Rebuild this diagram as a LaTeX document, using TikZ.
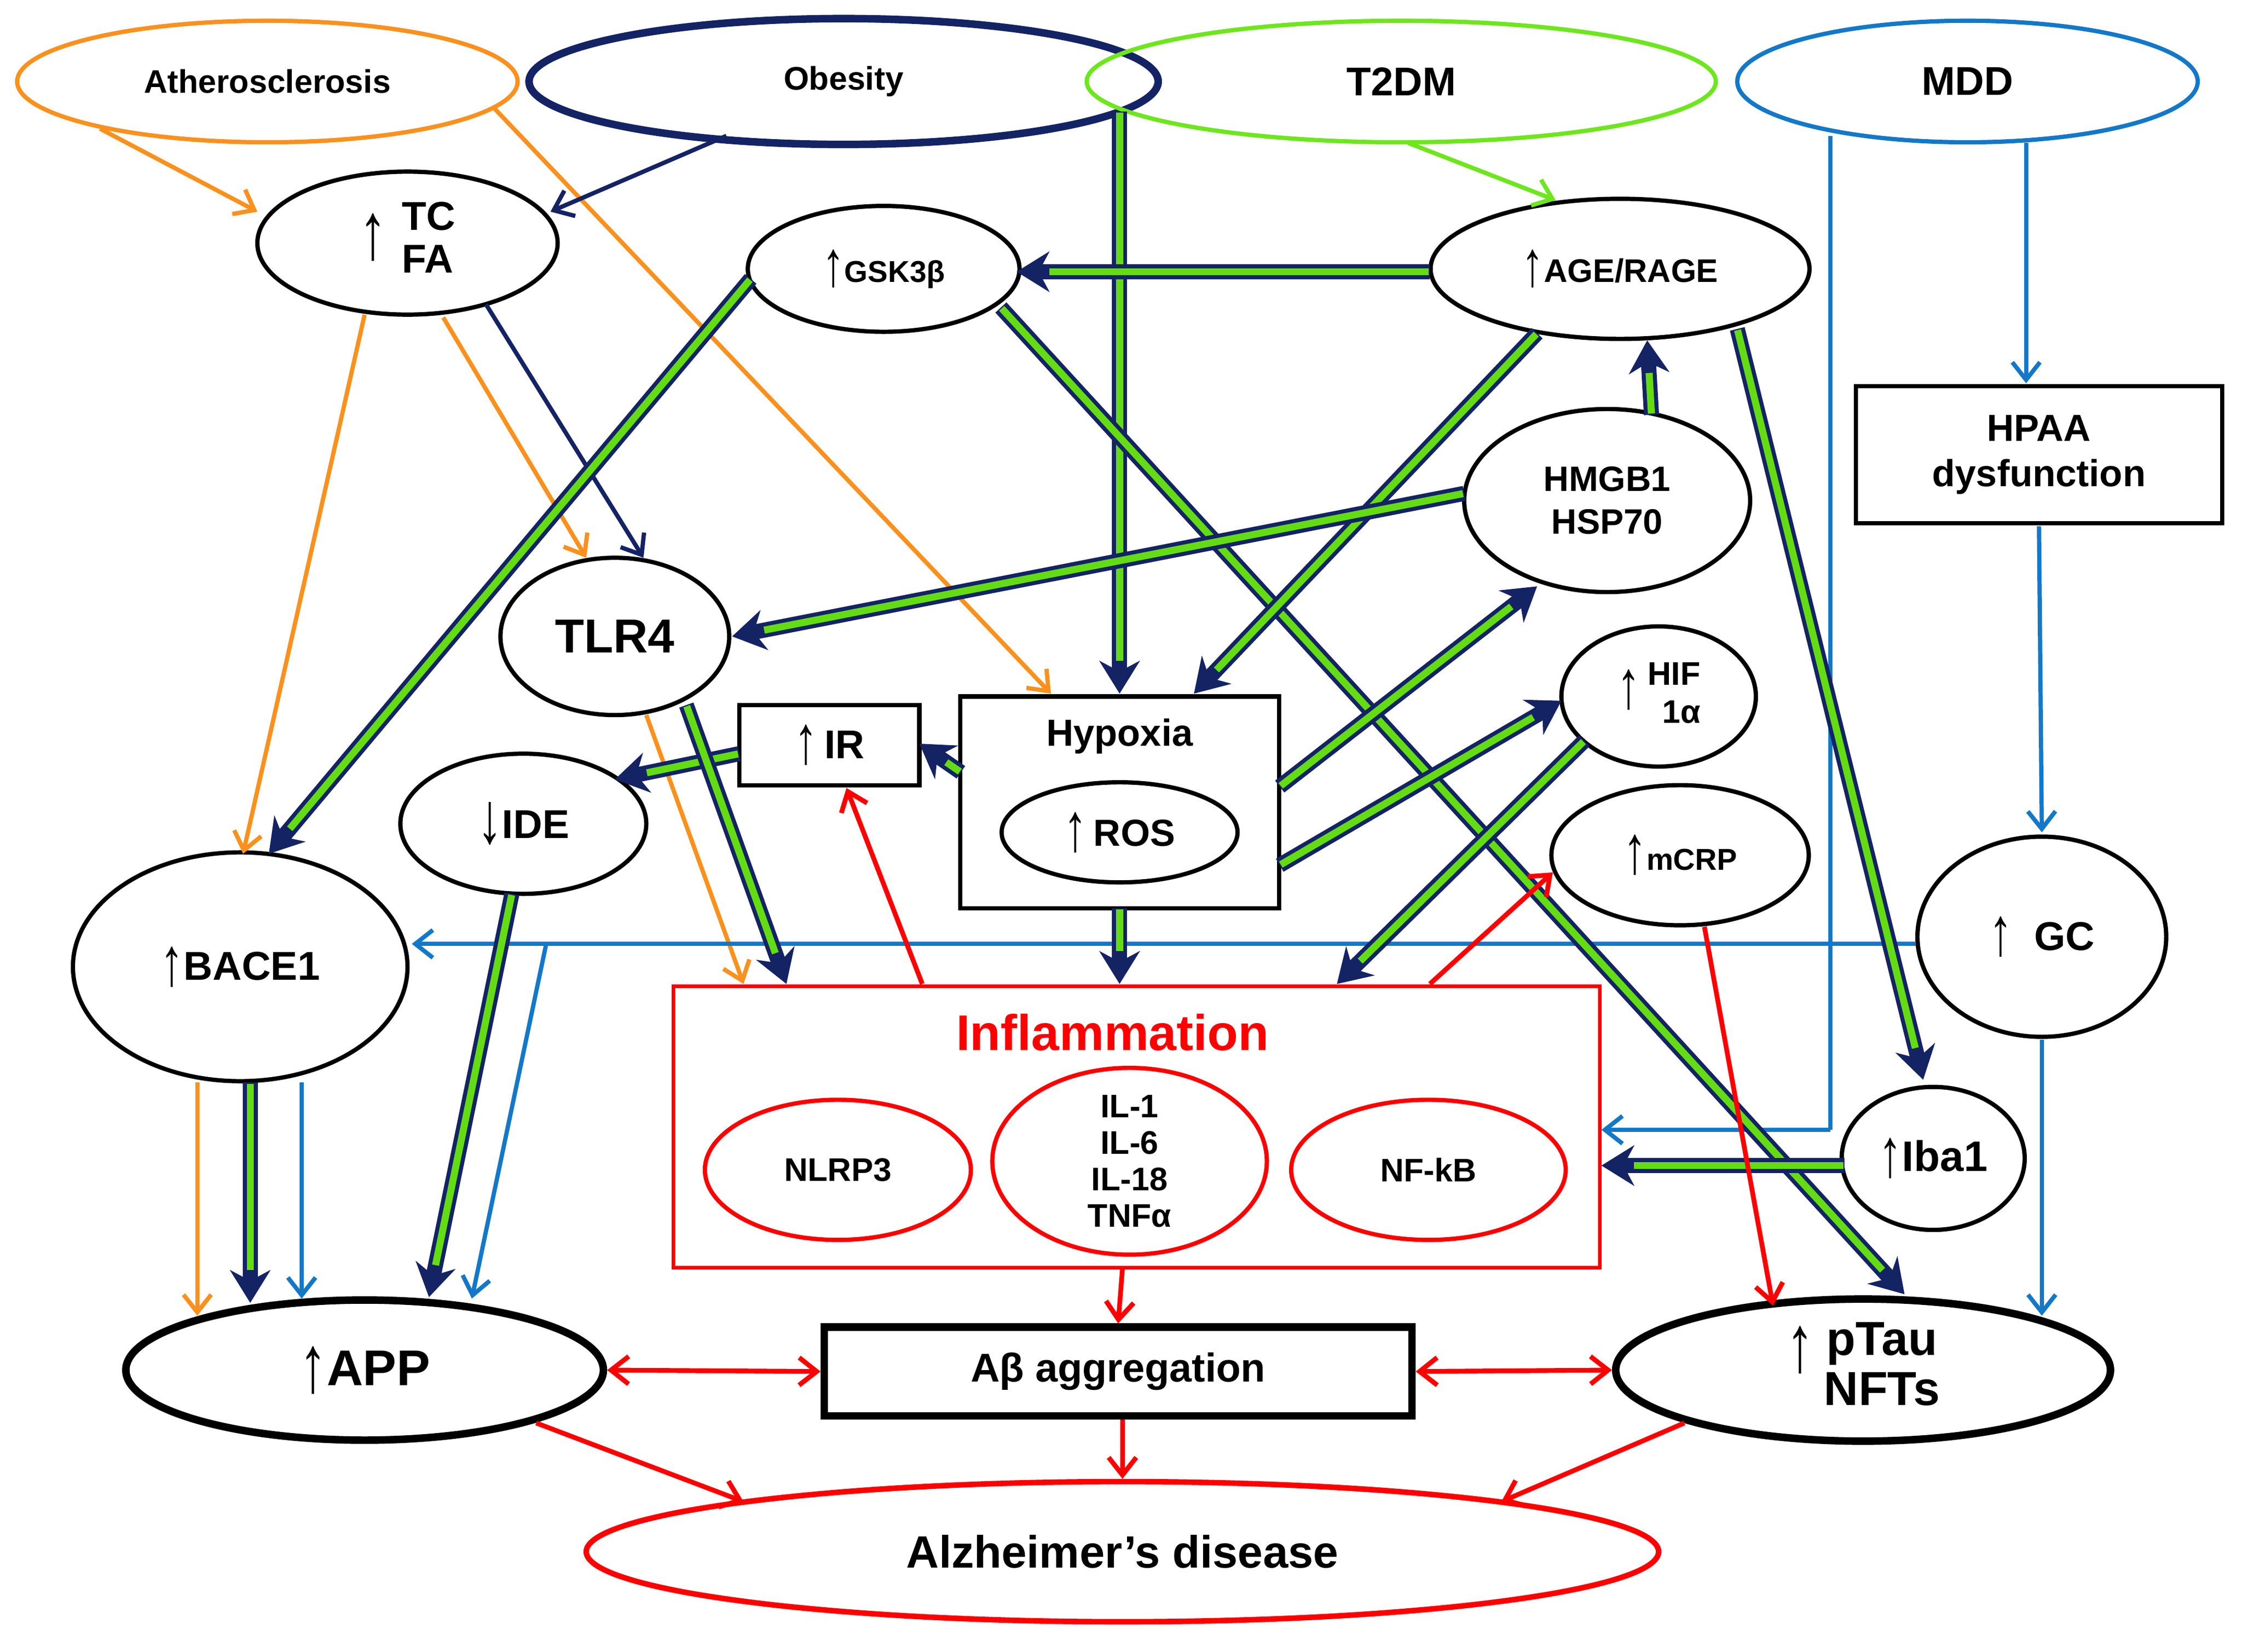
\documentclass[tikz,border=0pt]{standalone}
\usepackage{fontspec}
\setmainfont{Liberation Sans}
\usetikzlibrary{shapes.geometric,arrows.meta,calc}
\definecolor{navy}{RGB}{20,35,100}
\definecolor{grn}{RGB}{100,220,20}
\definecolor{org}{RGB}{250,145,30}
\definecolor{blu}{RGB}{20,120,200}
\definecolor{lgr}{RGB}{110,230,30}
\newcommand\UA[1][20]{\raisebox{-0.12em}{\scalebox{1.1}[1.6]{\fontsize{#1}{#1}\selectfont ↑}}}
\newcommand\DA[1][20]{\raisebox{-0.12em}{\scalebox{1.1}[1.6]{\fontsize{#1}{#1}\selectfont ↓}}}
\begin{document}
\begin{tikzpicture}[x=0.02cm,y=-0.02cm,font=\bfseries,
 mw/.style={minimum width={#1*0.02cm}},
 mh/.style={minimum height={#1*0.02cm}},
 el/.style={ellipse,draw,line width=1.7pt,mw=#1,inner sep=0pt,align=center},
 g/.style={draw=navy,line width=6pt,-{Stealth[length=13pt,width=16pt]},postaction={draw=grn,line width=2.8pt,-,shorten >=13pt,shorten <=0.5pt}},
 th/.style={line width=1.7pt,-{Straight Barb[length=7pt,width=11pt]}},
 rd/.style={draw=red,line width=1.9pt,-{Straight Barb[length=7pt,width=11pt]}},
 rdd/.style={draw=red,line width=1.9pt,{Straight Barb[length=7pt,width=11pt]}-{Straight Barb[length=7pt,width=11pt]}}]
\useasboundingbox (0,0) rectangle (1568,1155);
% top disease ellipses
\node[el=350,mh=85,draw=org,font=\bfseries\fontsize{13}{15}\selectfont] (ath) at (187,57) {Atherosclerosis};
\node[el=440,mh=88,draw=navy,line width=3pt,font=\bfseries\fontsize{13}{15}\selectfont] (ob) at (590,57) {Obesity};
\node[el=440,mh=85,draw=lgr,font=\bfseries\fontsize{16}{18}\selectfont] (t2) at (980,57) {T2DM};
\node[el=322,mh=85,draw=blu,font=\bfseries\fontsize{16}{18}\selectfont] (mdd) at (1376,57) {MDD};
% nodes
\node[el=210,mh=100,font=\bfseries\fontsize{16}{17}\selectfont] (tc) at (285,170) {\UA[20]\hspace{6pt}\begin{tabular}{@{}l@{}}TC\\FA\end{tabular}};
\node[el=190,mh=88,font=\bfseries\fontsize{12}{14}\selectfont] (gsk) at (618,188) {\UA[16]GSK3β};
\node[el=265,mh=98,font=\bfseries\fontsize{13}{15}\selectfont] (age) at (1133,188) {\UA[16]AGE/RAGE};
\node[el=200,mh=128,font=\bfseries\fontsize{14}{17}\selectfont] (hm) at (1124,350) {HMGB1\\HSP70};
\node[draw,line width=1.7pt,mw=256,mh=96,align=center,font=\bfseries\fontsize{15}{18}\selectfont] (hp) at (1426,318) {HPAA\\dysfunction};
\node[el=160,mh=110,font=\bfseries\fontsize{19}{21}\selectfont] (tlr) at (430,445) {TLR4};
\node[draw,line width=1.7pt,mw=223,mh=148] (hy) at (783,561) {};
\node[font=\bfseries\fontsize{15}{17}\selectfont] (hyt) at (783,515) {Hypoxia};
\node[el=165,mh=70,font=\bfseries\fontsize{15}{17}\selectfont] (ros) at (783,582) {\UA[17]\,ROS};
\node[draw,line width=1.7pt,mw=126,mh=56,font=\bfseries\fontsize{16}{18}\selectfont] (ir) at (580,521) {\UA[17]\,IR};
\node[el=136,mh=98,font=\bfseries\fontsize{13}{15}\selectfont] (hif) at (1160,487) {\UA[17]\hspace{3pt}\begin{tabular}{@{}r@{}}HIF\\1α\end{tabular}};
\node[el=172,mh=98,font=\bfseries\fontsize{16}{18}\selectfont] (ide) at (366,576) {\DA[18]IDE};
\node[el=180,mh=98,font=\bfseries\fontsize{12}{14}\selectfont] (mc) at (1175,598) {\UA[17]mCRP};
\node[el=174,mh=140,font=\bfseries\fontsize{16}{18}\selectfont] (gc) at (1428,655) {\UA[17]\;\;GC};
\node[el=234,mh=160,font=\bfseries\fontsize{16}{18}\selectfont] (bace) at (168,676) {\UA[17]BACE1};
% inflammation
\node[draw=red,line width=1.4pt,mw=648,mh=197] (inf) at (795,788) {};
\node[text=red,font=\bfseries\fontsize{20}{22}\selectfont] at (778,722) {Inflammation};
\node[el=186,mh=98,draw=red,font=\bfseries\fontsize{13}{15}\selectfont] (nl) at (586,818) {NLRP3};
\node[el=192,mh=122,draw=red,font=\bfseries\fontsize{13}{14.5}\selectfont] (il) at (790,812) {IL-1\\IL-6\\IL-18\\TNFα};
\node[el=192,mh=98,draw=red,font=\bfseries\fontsize{13}{15}\selectfont] (nf) at (999,818) {NF-kB};
\node[el=128,mh=100,font=\bfseries\fontsize{17}{19}\selectfont] (iba) at (1352,810) {\UA[17]Iba1};
% bottom
\node[el=334,mh=98,line width=3pt,font=\bfseries\fontsize{20}{22}\selectfont] (app) at (255,958) {\UA[20]APP};
\node[draw,line width=3pt,mw=411,mh=62,font=\bfseries\fontsize{16}{18}\selectfont] (ab) at (782,959) {Aβ aggregation};
\node[el=346,mh=98,line width=3pt,font=\bfseries\fontsize{19}{20}\selectfont] (pt) at (1303,958) {\raisebox{6pt}{\UA[20]}\hspace{4pt}\begin{tabular}{@{}c@{}}pTau\\NFTs\end{tabular}};
\node[el=750,mh=98,draw=red,line width=2.2pt,font=\bfseries\fontsize{18}{20}\selectfont] (ad) at (785,1085) {Alzheimer’s disease};
% orange
\draw[th,org] ($(ath)+(-117,33)$) -- ($(tc)+(-105,-22)$);
\draw[th,org] ($(ath)+(158,18)$) -- ($(hy)+(-48,-76)$);
\draw[th,org] ($(tc)+(-30,50)$) -- ($(bace)+(2,-79)$);
\draw[th,org] ($(tc)+(25,52)$) -- ($(tlr)+(-20,-55)$);
\draw[th,org] ($(tlr)+(22,55)$) -- ($(inf)+(-275,-100)$);
\draw[th,org] ($(bace)+(-30,81)$) -- ($(app)+(-117,-38)$);
% navy / lgreen thin
\draw[th,navy] ($(ob)+(-82,38)$) -- ($(tc)+(100,-22)$);
\draw[th,navy] ($(tc)+(55,43)$) -- ($(tlr)+(20,-55)$);
\draw[th,lgr] ($(t2)+(5,43)$) -- ($(age)+(-45,-48)$);
% blue
\coordinate (bc) at (1280,790);
\draw[th,blu,-] ($(mdd)+(-96,38)$) -- (bc);
\draw[th,blu] (bc) -- ($(inf)+(325,2)$);
\draw[th,blu] ($(mdd)+(41,43)$) -- ($(hp)+(-9,-50)$);
\draw[th,blu] ($(hp)+(0,50)$) -- ($(gc)+(0,-73)$);
\draw[th,blu] ($(gc)+(-88,5)$) -- ($(bace)+(120,-16)$);
\draw[th,blu] ($(gc)+(0,72)$) -- ($(pt)+(125,-38)$);
\draw[th,blu] ($(bace)+(43,81)$) -- ($(app)+(-44,-50)$);
\draw[th,blu] (382,660) -- ($(app)+(75,-50)$);
% green double
\draw[g] ($(t2)+(-197,21)$) -- ($(hy)+(0,-76)$);
\draw[g] ($(age)+(-133,2)$) -- ($(gsk)+(93,2)$);
\draw[g] ($(gsk)+(-93,7)$) -- ($(bace)+(20,-79)$);
\draw[g] ($(gsk)+(82,27)$) -- ($(pt)+(29,-53)$);
\draw[g] ($(age)+(-58,45)$) -- ($(hy)+(52,-76)$);
\draw[g] ($(hm)+(31,-60)$) -- ($(age)+(19,50)$);
\draw[g] ($(hm)+(-100,-5)$) -- ($(tlr)+(82,0)$);
\draw[g] ($(age)+(82,42)$) -- ($(iba)+(-7,-55)$);
\draw[g] (895,550) -- ($(hm)+(-49,60)$);
\draw[g] (895,605) -- ($(hif)+(-68,3)$);
\draw[g] ($(hif)+(-52,31)$) -- ($(inf)+(140,-100)$);
\draw[g] ($(hy)+(0,74)$) -- ($(inf)+(-12,-100)$);
\draw[g] ($(hy)+(-111,-21)$) -- ($(ir)+(63,-1)$);
\draw[g] ($(ir)+(-63,6)$) -- ($(ide)+(64,-31)$);
\draw[g] ($(tlr)+(50,48)$) -- ($(inf)+(-245,-100)$);
\draw[g] ($(ide)+(-8,49)$) -- ($(app)+(45,-51)$);
\draw[g] ($(bace)+(7,81)$) -- ($(app)+(-80,-47)$);
\draw[g] ($(iba)+(-62,5)$) -- ($(inf)+(325,27)$);
% red
\draw[rd] ($(inf)+(-150,-100)$) -- ($(ir)+(12,30)$);
\draw[rd] ($(inf)+(205,-100)$) -- ($(mc)+(-89,12)$);
\draw[rd] ($(mc)+(17,50)$) -- ($(pt)+(-63,-45)$);
\draw[rd] ($(inf)+(-10,99)$) -- (ab.north);
\draw[rdd] (app.east) -- (ab.west);
\draw[rdd] (ab.east) -- (pt.west);
\draw[rd] ($(app)+(120,37)$) -- ($(ad)+(-265,-35)$);
\draw[rd] ($(ab.south)+(3,0)$) -- (ad.north);
\draw[rd] ($(pt)+(-125,37)$) -- ($(ad)+(265,-35)$);
\end{tikzpicture}
\end{document}
